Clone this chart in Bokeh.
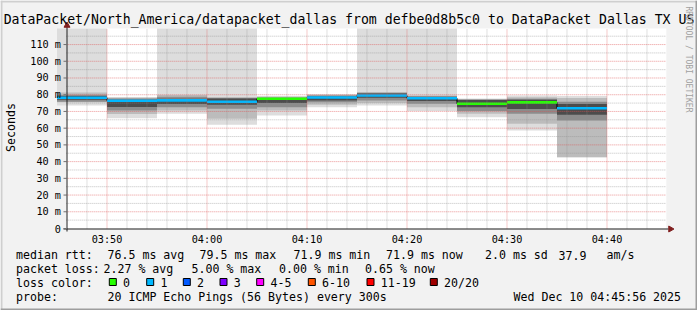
import datetime as dt
import math
from bokeh.plotting import figure
from bokeh.models import Range1d
from bokeh.core.properties import value
from bokeh.embed import file_html
from bokeh.resources import INLINE

# ---------------- data ----------------
TITLE = "DataPacket/North_America/datapacket_dallas from defbe0d8b5c0 to DataPacket Dallas TX US"
DAY = "2025-12-10"
RANGE_START = "03:45:56"
RANGE_END = "04:45:56"
STEP_SECONDS = 300
step_end = ["03:50", "03:55", "04:00", "04:05", "04:10", "04:15",
            "04:20", "04:25", "04:30", "04:35", "04:40"]
median = [78.2, 76.4, 76.6, 75.8, 77.6, 78.3, 79.5, 77.9, 74.6, 75.4, 71.9]
loss_idx = [1, 1, 1, 1, 0, 1, 1, 1, 0, 0, 1]
# smoke layers (ms), outermost to innermost
outer_lo = [73.6, 66.0, 68.6, 62.0, 67.6, 72.5, 73.6, 70.2, 66.6, 58.6, 42.6]
outer_hi = [135.0, 78.6, 135.0, 135.0, 79.2, 80.3, 135.0, 135.0, 77.8, 79.6, 79.2]
mid_lo = [75.5, 68.5, 70.6, 65.6, 70.5, 74.0, 75.0, 72.5, 68.6, 62.6, 42.6]
mid_hi = [81.3, 78.2, 79.8, 78.6, 78.8, 80.0, 81.5, 79.5, 77.4, 78.5, 78.0]
inner_lo = [75.8, 70.6, 72.5, 71.6, 72.5, 75.5, 76.6, 74.6, 70.2, 68.6, 64.6]
inner_hi = [80.0, 77.8, 78.8, 78.0, 78.4, 79.6, 81.2, 79.0, 77.1, 77.6, 75.8]
core_lo = [77.0, 72.6, 74.5, 74.0, 75.0, 76.5, 78.2, 76.3, 72.5, 71.5, 68.0]
core_hi = [79.2, 77.0, 77.6, 77.8, 78.0, 79.0, 80.8, 78.8, 76.9, 77.0, 74.5]

Y_MAX = 119.6
y_ticks = [0, 10, 20, 30, 40, 50, 60, 70, 80, 90, 100, 110]
y_labels = ["0", "10 m", "20 m", "30 m", "40 m", "50 m", "60 m", "70 m",
            "80 m", "90 m", "100 m", "110 m"]
y_minor = [5, 15, 25, 35, 45, 55, 65, 75, 85, 95, 105, 115]
x_ticks = ["03:50", "04:00", "04:10", "04:20", "04:30", "04:40"]
x_minor = ["03:48", "03:52", "03:54", "03:56", "03:58", "04:02", "04:04",
           "04:06", "04:08", "04:12", "04:14", "04:16", "04:18", "04:22",
           "04:24", "04:26", "04:28", "04:32", "04:34", "04:36", "04:38",
           "04:42", "04:44"]

loss_labels = ["0", "1", "2", "3", "4-5", "6-10", "11-19", "20/20"]
loss_colors = ["#26ff00", "#00b8ff", "#0059ff", "#7e00ff", "#ff00ff",
               "#ff5500", "#ff0000", "#a00000"]

rtt_line = ["median rtt:", "76.5 ms avg", "79.5 ms max", "71.9 ms min",
            "71.9 ms now", "2.0 ms sd", "37.9", "am/s"]
loss_line = ["packet loss:", "2.27 % avg", "5.00 % max", "0.00 % min", "0.65 % now"]
color_head = "loss color:"
probe_line = ["probe:", "20 ICMP Echo Pings (56 Bytes) every 300s"]
date_text = "Wed Dec 10 04:45:56 2025"
watermark = "RRDTOOL / TOBI OETIKER"
unit_label = "Seconds"

# ---------------- layout / style ----------------
W, H = 697, 310
PLOT_LEFT = 65.833      # canvas px of the range start
PLOT_BOTTOM = 228.0     # canvas px (from top) of value 0
PLOT_W, PLOT_H = 600, 200
FONT = value("DejaVu Sans Mono")
BG = "#f2f2f2"
smoke_colors = ["#dddddd", "#bcbcbc", "#8c8c8c", "#4c4c4c"]
MGRID = "#de4f4f"
GRID = "#8f8f8f"
ARROW = "#801f1f"
AXIS = "#1f1f1f"


def tm(hms):
    fmt = "%Y-%m-%d %H:%M:%S" if hms.count(":") == 2 else "%Y-%m-%d %H:%M"
    return dt.datetime.strptime(DAY + " " + hms, fmt)


EPOCH = dt.datetime(1970, 1, 1)


def ms(d):
    return (d - EPOCH).total_seconds() * 1000.0


x0 = ms(tm(RANGE_START))
x1 = ms(tm(RANGE_END))
spp = (x1 - x0) / PLOT_W       # ms per pixel
upp = Y_MAX / PLOT_H           # value units per pixel


def X(cx):
    return x0 + (cx - PLOT_LEFT) * spp


def Y(cy):
    return (PLOT_BOTTOM - cy) * upp


ends = [ms(tm(s)) for s in step_end]
starts = [e - STEP_SECONDS * 1000.0 for e in ends]

p = figure(width=W, height=H, x_range=Range1d(X(0), X(W)),
           y_range=Range1d(Y(H), Y(0)), output_backend="svg",
           toolbar_location=None, title=None, min_border=0,
           x_axis_location=None, y_axis_location=None)
p.grid.visible = False
p.background_fill_color = BG
p.border_fill_color = BG
p.outline_line_color = None

# canvas (plot area)
p.quad(left=[x0], right=[x1], bottom=[0], top=[Y_MAX], fill_color="#ffffff", line_color=None)

# smoke
layers = [(outer_lo, outer_hi), (mid_lo, mid_hi), (inner_lo, inner_hi), (core_lo, core_hi)]
for (lo, hi), c in zip(layers, smoke_colors):
    p.quad(left=starts, right=ends, bottom=[max(v, 0) for v in lo],
           top=[min(v, Y_MAX) for v in hi], fill_color=c, line_color=None)

# median: black step connectors + loss-coloured median
p.step(x=starts + [ends[-1]], y=median + [median[-1]], mode="after",
       line_color="#000000", line_width=1)
p.segment(x0=starts, y0=median, x1=ends, y1=median,
          line_color=[loss_colors[i] for i in loss_idx], line_width=2.6)

# grid (on top, like rrdtool)
xm = [ms(tm(s)) for s in x_minor]
xM = [ms(tm(s)) for s in x_ticks]
p.segment(x0=xm, x1=xm, y0=[0] * len(xm), y1=[Y_MAX] * len(xm),
          line_color=GRID, line_alpha=0.55, line_dash="1 1", line_width=1)
p.segment(x0=[x0] * len(y_minor), x1=[x1] * len(y_minor), y0=y_minor, y1=y_minor,
          line_color=GRID, line_alpha=0.55, line_dash="1 1", line_width=1)
p.segment(x0=xM, x1=xM, y0=[0] * len(xM), y1=[Y_MAX] * len(xM),
          line_color=MGRID, line_alpha=0.6, line_dash="1 1", line_width=1)
p.segment(x0=[x0] * (len(y_ticks) - 1), x1=[x1] * (len(y_ticks) - 1),
          y0=y_ticks[1:], y1=y_ticks[1:],
          line_color=MGRID, line_alpha=0.6, line_dash="1 1", line_width=1)

# axes
ax_x = X(66.5)
ax_y = Y(228.5)
p.segment(x0=[X(63)], x1=[X(668)], y0=[ax_y], y1=[ax_y], line_color=AXIS, line_width=1)
p.segment(x0=[ax_x], x1=[ax_x], y0=[Y(231)], y1=[Y(26)], line_color=AXIS, line_width=1)
p.scatter(x=[X(670)], y=[ax_y], marker="triangle", size=6, angle=-math.pi / 2,
          fill_color=ARROW, line_color=ARROW)
p.scatter(x=[ax_x], y=[Y(25)], marker="triangle", size=6,
          fill_color=ARROW, line_color=ARROW)
p.segment(x0=[X(63)] * len(y_ticks), x1=[ax_x] * len(y_ticks), y0=y_ticks, y1=y_ticks,
          line_color="#707070", line_width=1)

# tick labels
p.text(x=[X(60.5)] * len(y_ticks), y=y_ticks, text=y_labels, text_font=FONT,
       text_font_size=value("10.2px"), text_align="right", text_baseline="middle",
       text_color="#000000")
p.text(x=xM, y=[Y(238.5)] * len(xM), text=x_ticks, text_font=FONT,
       text_font_size=value("10.2px"), text_align="center", text_baseline="middle",
       text_color="#000000")


def ctext(cx, cy, texts, size, align="left", angle=0.0, color="#000000"):
    if isinstance(texts, str):
        texts = [texts]
    if not isinstance(cx, (list, tuple)):
        cx = [cx] * len(texts)
    p.text(x=[X(c) for c in cx], y=[Y(cy)] * len(texts), text=texts, text_font=FONT,
           text_font_size=value(size), text_align=align, text_baseline="middle",
           angle=angle, text_color=color)


# title, unit label, watermark
ctext(348.5, 19.3, TITLE, "13.2px", align="center")
ctext(10, 127, unit_label, "11.6px", align="center", angle=math.pi / 2)
ctext(688, 59, watermark, "8px", align="center", angle=-math.pi / 2, color="#a0a0a0")

# legend
LEG = "11.6px"
ctext([15.5, 107, 199, 293, 385.5, 484.5, 558, 606], 254.6, rtt_line, LEG)
ctext([15.5, 103, 191, 278.5, 364.5], 268.5, loss_line, LEG)
ctext(15.5, 282.3, color_head, LEG)
box_x = [108.8, 146.2, 182.8, 219.5, 256.2, 307.8, 366.5, 429.8]
p.quad(left=[X(b) for b in box_x], right=[X(b + 7) for b in box_x],
       top=[Y(278.0)] * len(box_x), bottom=[Y(285.0)] * len(box_x),
       fill_color=loss_colors, line_color="#000000", line_width=1)
ctext([b + 13.8 for b in box_x], 282.3, loss_labels, LEG)
ctext([15.5, 107], 296.2, probe_line, LEG)
ctext(513, 296.2, date_text, LEG)

# 3D border
p.quad(left=[X(0), X(0)], right=[X(W), X(2)], top=[Y(0), Y(0)], bottom=[Y(2), Y(H)],
       fill_color="#cfcfcf", line_color=None)
p.quad(left=[X(0), X(W - 2)], right=[X(W), X(W)], top=[Y(H - 2), Y(0)], bottom=[Y(H), Y(H)],
       fill_color="#9e9e9e", line_color=None)

open("out.html", "w").write(file_html(p, INLINE))
